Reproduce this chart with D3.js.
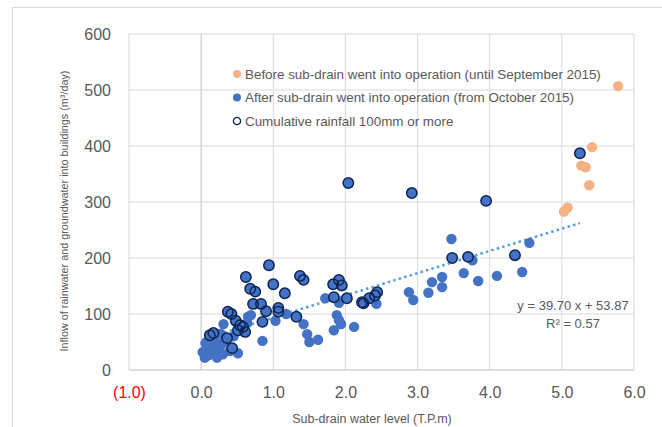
<!DOCTYPE html>
<html>
<head>
<meta charset="utf-8">
<script src="https://cdn.jsdelivr.net/npm/d3@7"></script>
<style>
  body { margin: 0; background: #fff; }
  text { font-family: "Liberation Sans", Arial, sans-serif; fill: #595959; }
</style>
</head>
<body>
<script>
// before sub-drain (until Sep 2015)
var beforeData = [
  [5.78, 507], [5.42, 398], [5.27, 365], [5.33, 362], [5.38, 330], [5.08, 290], [5.03, 283]
];

// after sub-drain, months with cumulative rainfall >= 100mm (drawn filled + outlined)
var rainData = [
  [5.25, 387], [2.04, 334], [2.92, 316], [3.95, 302], [0.94, 187], [0.62, 166], [1.00, 153],
  [1.37, 168], [1.42, 161], [1.91, 161], [1.83, 153], [1.95, 151], [3.48, 200], [3.70, 202],
  [4.35, 205], [2.41, 133], [2.44, 139], [0.68, 145], [0.75, 140], [1.16, 137], [0.72, 118],
  [0.83, 118], [0.90, 105], [1.07, 111], [1.07, 104], [1.32, 95], [0.85, 86], [0.37, 104],
  [0.42, 100], [0.48, 88], [0.54, 80], [0.58, 77], [0.51, 71], [0.61, 68], [0.17, 66],
  [0.12, 62], [0.36, 57], [0.43, 39], [1.84, 130], [2.02, 128], [2.23, 121], [2.25, 119],
  [2.33, 128]
];

// after sub-drain, other months
var afterOnly = [
  [3.47, 234], [3.76, 196], [4.55, 227], [3.64, 173], [3.34, 166], [3.20, 157], [3.84, 159],
  [4.10, 168], [4.45, 175], [3.34, 148], [2.88, 139], [2.94, 125], [3.15, 138], [2.43, 118],
  [1.72, 128], [1.91, 120], [1.88, 98], [1.91, 89], [1.94, 82], [1.84, 71], [2.12, 77],
  [1.42, 82], [1.47, 64], [1.50, 50], [1.62, 54], [1.03, 88], [1.18, 100], [0.85, 52],
  [0.65, 95], [0.69, 98], [0.64, 84], [0.31, 82], [0.51, 30],
  [0.02, 32], [0.06, 48], [0.08, 38], [0.10, 26], [0.13, 42], [0.16, 30], [0.20, 50],
  [0.22, 22], [0.25, 36], [0.28, 45], [0.30, 28], [0.33, 52], [0.12, 55], [0.40, 34],
  [0.45, 60], [0.27, 65], [0.05, 22]
];

var afterData = afterOnly.concat(rainData);

var xTicks = [-1, 0, 1, 2, 3, 4, 5, 6];
var yTicks = [0, 100, 200, 300, 400, 500, 600];

var TREND_SLOPE = 39.70;
var TREND_INTERCEPT = 53.87;

var legendItems = [
  {label: "Before sub-drain went into operation (until September 2015)", type: "before"},
  {label: "After sub-drain went into operation (from October 2015)", type: "after"},
  {label: "Cumulative rainfall 100mm or more", type: "rain"}
];

var W = 662, H = 427;
var ORANGE = "#f4b183", BLUE = "#4472c4", NAVY = "#0c2456", GRID = "#d9d9d9";

var svg = d3.select("body").append("svg")
  .attr("width", W)
  .attr("height", H);

// chart border (runs off the right and bottom of the picture)
svg.append("rect")
  .attr("x", 12.5).attr("y", 7.5)
  .attr("width", 700).attr("height", 450)
  .attr("fill", "#fff")
  .attr("stroke", GRID);

var x = d3.scaleLinear().domain([-1, 6]).range([129, 634]);
var y = d3.scaleLinear().domain([0, 600]).range([370, 34]);

// gridlines
svg.append("g").selectAll("line").data(xTicks).enter().append("line")
  .attr("x1", function(d) { return x(d); })
  .attr("x2", function(d) { return x(d); })
  .attr("y1", y(0)).attr("y2", y(600))
  .attr("stroke", function(d) { return d === 0 ? "#bfbfbf" : GRID; })
  .attr("stroke-width", 1);

svg.append("g").selectAll("line").data(yTicks).enter().append("line")
  .attr("x1", x(-1)).attr("x2", x(6))
  .attr("y1", function(d) { return y(d); })
  .attr("y2", function(d) { return y(d); })
  .attr("stroke", function(d) { return d === 0 ? "#bfbfbf" : GRID; })
  .attr("stroke-width", 1);

// axes (labels only)
var fmt = d3.format(".1f");
var xAxis = d3.axisBottom(x).tickValues(xTicks).tickSize(0).tickPadding(17)
  .tickFormat(function(d) { return d < 0 ? "(" + fmt(-d) + ")" : fmt(d); });
var gx = svg.append("g").attr("transform", "translate(0," + y(0) + ")").call(xAxis);
gx.select(".domain").remove();
gx.selectAll("text")
  .style("font-family", "'Liberation Sans', Arial, sans-serif")
  .style("font-size", "16px")
  .style("fill", function(d) { return d < 0 ? "#ff0000" : "#595959"; });

var yAxis = d3.axisLeft(y).tickValues(yTicks).tickSize(0).tickPadding(18);
var gy = svg.append("g").attr("transform", "translate(" + x(-1) + ",0)").call(yAxis);
gy.select(".domain").remove();
gy.selectAll("text")
  .style("font-family", "'Liberation Sans', Arial, sans-serif")
  .style("font-size", "16px")
  .style("fill", "#595959");

// axis titles
svg.append("text")
  .attr("x", 372).attr("y", 423)
  .attr("text-anchor", "middle")
  .style("font-size", "12.5px")
  .text("Sub-drain water level (T.P.m)");

svg.append("text")
  .attr("transform", "translate(68,211) rotate(-90)")
  .attr("text-anchor", "middle")
  .style("font-size", "10.8px")
  .text("Inflow of rainwater and groundwater into buildings (m\u00b3/day)");

// trendline over the range of the "after" series
var xr = d3.extent(afterData, function(d) { return d[0]; });
svg.append("line")
  .attr("x1", x(xr[0])).attr("y1", y(TREND_SLOPE * xr[0] + TREND_INTERCEPT))
  .attr("x2", x(xr[1])).attr("y2", y(TREND_SLOPE * xr[1] + TREND_INTERCEPT))
  .attr("stroke", "#5b9bd5")
  .attr("stroke-width", 2.5)
  .attr("stroke-dasharray", "2.5 3.2");

// points
svg.append("g").selectAll("circle").data(beforeData).enter().append("circle")
  .attr("cx", function(d) { return x(d[0]); })
  .attr("cy", function(d) { return y(d[1]); })
  .attr("r", 5.2)
  .attr("fill", ORANGE);

svg.append("g").selectAll("circle").data(afterData).enter().append("circle")
  .attr("cx", function(d) { return x(d[0]); })
  .attr("cy", function(d) { return y(d[1]); })
  .attr("r", 5.2)
  .attr("fill", BLUE);

svg.append("g").selectAll("circle").data(rainData).enter().append("circle")
  .attr("cx", function(d) { return x(d[0]); })
  .attr("cy", function(d) { return y(d[1]); })
  .attr("r", 5.2)
  .attr("fill", "none")
  .attr("stroke", NAVY)
  .attr("stroke-width", 1.5);

// trendline label
svg.append("text")
  .attr("x", 573).attr("y", 310)
  .attr("text-anchor", "middle")
  .style("font-size", "13px")
  .text("y = 39.70 x + 53.87");
svg.append("text")
  .attr("x", 573).attr("y", 328)
  .attr("text-anchor", "middle")
  .style("font-size", "13px")
  .text("R\u00b2 = 0.57");

// legend
var lg = svg.append("g").selectAll("g").data(legendItems).enter().append("g")
  .attr("transform", function(d, i) { return "translate(237," + (74 + i * 23.5) + ")"; });
lg.append("circle")
  .attr("r", function(d) { return d.type === "rain" ? 3.6 : 4; })
  .attr("fill", function(d) { return d.type === "before" ? ORANGE : d.type === "after" ? BLUE : "#fff"; })
  .attr("stroke", function(d) { return d.type === "rain" ? NAVY : "none"; })
  .attr("stroke-width", 1.3);
lg.append("text")
  .attr("x", 8).attr("dy", "0.35em")
  .style("font-size", "13.4px")
  .text(function(d) { return d.label; });
</script>
</body>
</html>
